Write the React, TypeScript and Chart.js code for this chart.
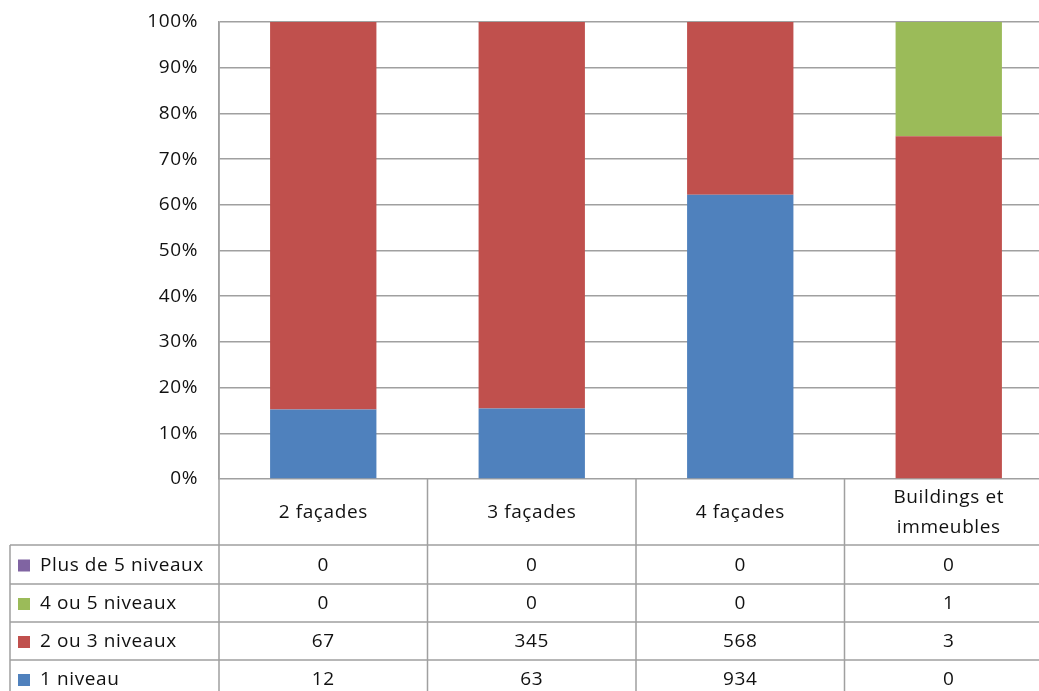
import React, { useEffect, useRef } from "react";
import { Chart, registerables } from "chart.js";

Chart.register(...registerables);

const categories = ["2 façades", "3 façades", "4 façades", "Buildings et immeubles"];
const categoryLines = [["2 façades"], ["3 façades"], ["4 façades"], ["Buildings et", "immeubles"]];
const seriesNames = ["1 niveau", "2 ou 3 niveaux", "4 ou 5 niveaux", "Plus de 5 niveaux"];
const seriesColors = ["#4F81BD", "#C0504D", "#9BBB59", "#8064A2"];
const niveau1 = [12, 63, 934, 0];
const niveau23 = [67, 345, 568, 3];
const niveau45 = [0, 0, 0, 1];
const plus5 = [0, 0, 0, 0];
const yTicks = [0, 10, 20, 30, 40, 50, 60, 70, 80, 90, 100];

const series = [niveau1, niveau23, niveau45, plus5];
const totals = categories.map((_, i) => series.reduce((s, arr) => s + arr[i], 0));
const pct = (arr: number[]) => arr.map((v, i) => (totals[i] ? (v / totals[i]) * 100 : 0));

const FONT = "'Open Sans'";
const FSIZE = 19;
const GRID = "#a0a0a0";
const TEXT = "#111111";
const SPACING = "0.6px";

const W = 1062;
const H = 700;

const spacingPlugin = {
  id: "spacing",
  beforeDraw(chart: any) {
    (chart.ctx as any).letterSpacing = SPACING;
  },
};

const tablePlugin = {
  id: "dataTable",
  afterDraw(chart: any) {
    const ctx = chart.ctx as CanvasRenderingContext2D;
    const xs = chart.scales.x;
    const area = chart.chartArea;
    const n = categories.length;
    const catW = (area.right - area.left) / n;
    const bounds = Array.from({ length: n + 1 }, (_, i) => area.left + i * catW);
    const headerBottom = 545;
    const rowEdges = [545, 584, 622, 660, 698];
    const legendLeft = 10;

    ctx.save();
    (ctx as any).letterSpacing = SPACING;
    ctx.strokeStyle = GRID;
    ctx.lineWidth = 1.5;
    ctx.beginPath();
    rowEdges.forEach((y) => {
      ctx.moveTo(legendLeft, y);
      ctx.lineTo(W, y);
    });
    bounds.forEach((x, i) => {
      ctx.moveTo(x, i === 0 ? area.top : area.bottom);
      ctx.lineTo(x, H);
    });
    ctx.moveTo(legendLeft, headerBottom);
    ctx.lineTo(legendLeft, H);
    ctx.stroke();

    ctx.fillStyle = TEXT;
    ctx.font = `${FSIZE}px ${FONT}`;
    ctx.textAlign = "center";
    ctx.textBaseline = "middle";
    const headerMid = (area.bottom + headerBottom) / 2 + 1;
    categoryLines.forEach((lines, i) => {
      const cx = xs.getPixelForValue(i);
      const lh = 30;
      lines.forEach((t, k) => {
        ctx.fillText(t, cx, headerMid + (k - (lines.length - 1) / 2) * lh);
      });
    });

    const rowOrder = [3, 2, 1, 0];
    rowOrder.forEach((si, r) => {
      const yMid = (rowEdges[r] + rowEdges[r + 1]) / 2 + 1;
      ctx.fillStyle = seriesColors[si];
      ctx.fillRect(18, yMid - 6, 12, 12);
      ctx.fillStyle = TEXT;
      ctx.textAlign = "left";
      ctx.fillText(seriesNames[si], 40, yMid);
      ctx.textAlign = "center";
      series[si].forEach((v, i) => {
        ctx.fillText(String(v), xs.getPixelForValue(i), yMid);
      });
    });
    ctx.restore();
  },
};

export default function App() {
  const ref = useRef<HTMLCanvasElement>(null);
  useEffect(() => {
    if (!ref.current) return;
    const chart = new Chart(ref.current, {
      type: "bar",
      data: {
        labels: categories,
        datasets: series.map((arr, i) => ({
          label: seriesNames[i],
          data: pct(arr),
          backgroundColor: seriesColors[i],
          borderWidth: 0,
          categoryPercentage: 1,
          barPercentage: 0.51,
        })),
      },
      options: {
        responsive: false,
        animation: false,
        layout: { padding: { top: 22, bottom: H - 479, right: W - 1053, left: 0 } },
        plugins: { legend: { display: false }, tooltip: { enabled: false } },
        scales: {
          x: { stacked: true, display: false },
          y: {
            stacked: true,
            min: 0,
            max: 100,
            afterBuildTicks: (s: any) => {
              s.ticks = yTicks.map((v) => ({ value: v }));
            },
            afterFit: (s: any) => {
              s.width = 219;
              s.paddingTop = 0;
              s.paddingBottom = 0;
            },
            ticks: {
              callback: (v: any) => v + "%",
              font: { family: FONT, size: FSIZE },
              color: TEXT,
              padding: 21,
            },
            grid: { color: GRID, lineWidth: 1.5, drawTicks: false },
            border: { display: true, color: GRID, width: 1.5 },
          },
        },
      },
      plugins: [spacingPlugin, tablePlugin],
    });
    return () => chart.destroy();
  }, []);
  return (
    <div style={{ position: "absolute", left: 0, top: 0, width: 1039, height: 691, overflow: "hidden", background: "#fff" }}>
      <canvas ref={ref} width={W} height={H} style={{ width: W, height: H, display: "block" }} />
    </div>
  );
}
